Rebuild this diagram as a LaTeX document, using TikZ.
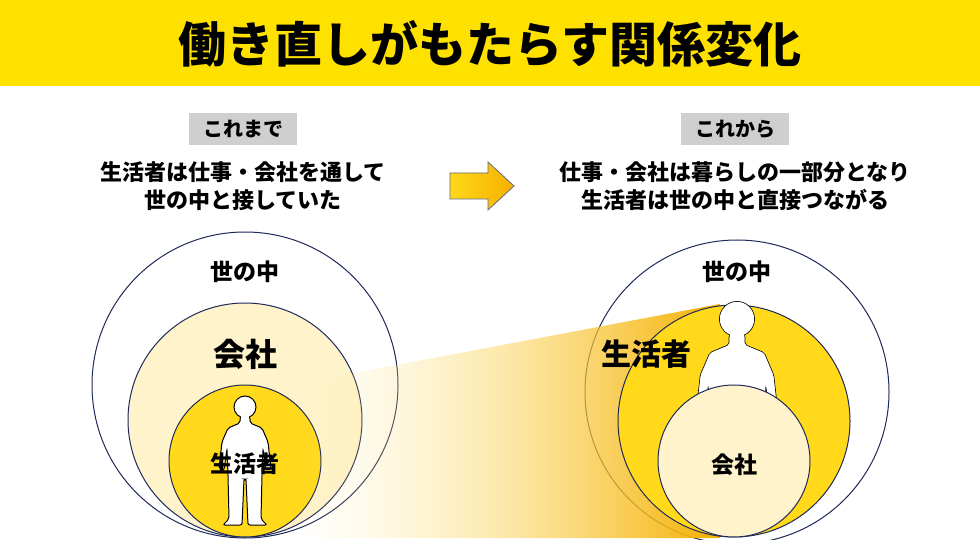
\documentclass[tikz,border=0pt]{standalone}
\usepackage{fontspec}
\setmainfont{Noto Sans CJK JP}
\usetikzlibrary{fadings}
\definecolor{bandyellow}{HTML}{FFE100}
\definecolor{ringline}{HTML}{1F2A5A}
\definecolor{cream}{HTML}{FFF3CC}
\definecolor{sunny}{HTML}{FFD91A}
\definecolor{amber}{HTML}{F5B000}
\definecolor{labelgray}{HTML}{CFCFCF}
% silhouette of a person, head centre at #1, scale #2
\newcommand{\personfig}[2]{%
  \begin{scope}[shift={#1}, scale=#2]
    \draw[fill=white, line width=1pt/#2, rounded corners=2pt]
      (-5,10) -- (-5,16) -- (-17,21) -- (-23,35) -- (-26,62) -- (-21,63) -- (-18,42)
      -- (-17,68) -- (-16,112) -- (-22,118) -- (-3,118) -- (-1,72) -- (1,72)
      -- (3,118) -- (22,118) -- (16,112) -- (17,68) -- (18,42) -- (21,63)
      -- (26,62) -- (23,35) -- (17,21) -- (5,16) -- (5,10) -- cycle;
    \draw[fill=white, line width=1pt/#2] (0,0) circle (11);
    \fill[white] (-4.3,8) rectangle (4.3,14);
  \end{scope}}
\begin{document}
\begin{tikzpicture}[x=1pt, y=-1pt,
    ring/.style={draw=ringline, line width=1pt},
    tag/.style={fill=labelgray, minimum width=108pt, minimum height=32pt, font=\bfseries\fontsize{20}{22}\selectfont},
    lead/.style={align=center, font=\bfseries\fontsize{22}{28}\selectfont},
    word/.style={font=\bfseries\fontsize{23}{26}\selectfont},
  ]
  \useasboundingbox (0,0) rectangle (980,540);
  % title band
  \fill[bandyellow] (0,0) rectangle (980,86);
  \node[font=\bfseries\fontsize{48}{52}\selectfont] (title) at (490,44) {働き直しがもたらす関係変化};
  % headings
  \node[tag] (before) at (243,129) {これまで};
  \node[tag] (after) at (735,129) {これから};
  \node[lead] (beforetext) at (243,186) {生活者は仕事・会社を通して\\世の中と接していた};
  \node[lead] (aftertext) at (735,186) {仕事・会社は暮らしの一部分となり\\生活者は世の中と直接つながる};
  \coordinate (shiftarrow) at (482,186);
  \draw[draw=ringline!70, line width=0.8pt, left color=sunny, right color=amber]
    (shiftarrow) ++(-32,-13) -- ++(38,0) -- ++(0,-11) -- ++(26,24) -- ++(-26,24)
    -- ++(0,-11) -- ++(-38,0) -- cycle;
  % left: society > company > person
  \draw[ring, fill=white] (245,385) circle (153);
  \draw[ring, fill=cream] (245,420) circle (117);
  \draw[ring, fill=sunny] (245,461) circle (76);
  \personfig{(245,407)}{1}
  \node[word] (worldL) at (245,272) {世の中};
  \node[font=\bfseries\fontsize{32}{34}\selectfont] (companyL) at (245,354) {会社};
  \node[word] (personL) at (245,464) {生活者};
  % right outer ring, then the widening band
  \draw[ring, fill=white] (737,392) circle (152);
  \shade[left color=sunny!40, right color=amber, path fading=west]
    (290,385) -- (720,304) -- (720,538) -- (290,538) -- cycle;
  \draw[ring, fill=sunny] (734,421) circle (116);
  \personfig{(737,319)}{1.6}
  \draw[ring, fill=cream] (734,461) circle (76);
  \node[word] (worldR) at (737,272) {世の中};
  \node[font=\bfseries\fontsize{30}{32}\selectfont] (personR) at (646,354) {生活者};
  \node[word] (companyR) at (734,465) {会社};
\end{tikzpicture}
\end{document}
